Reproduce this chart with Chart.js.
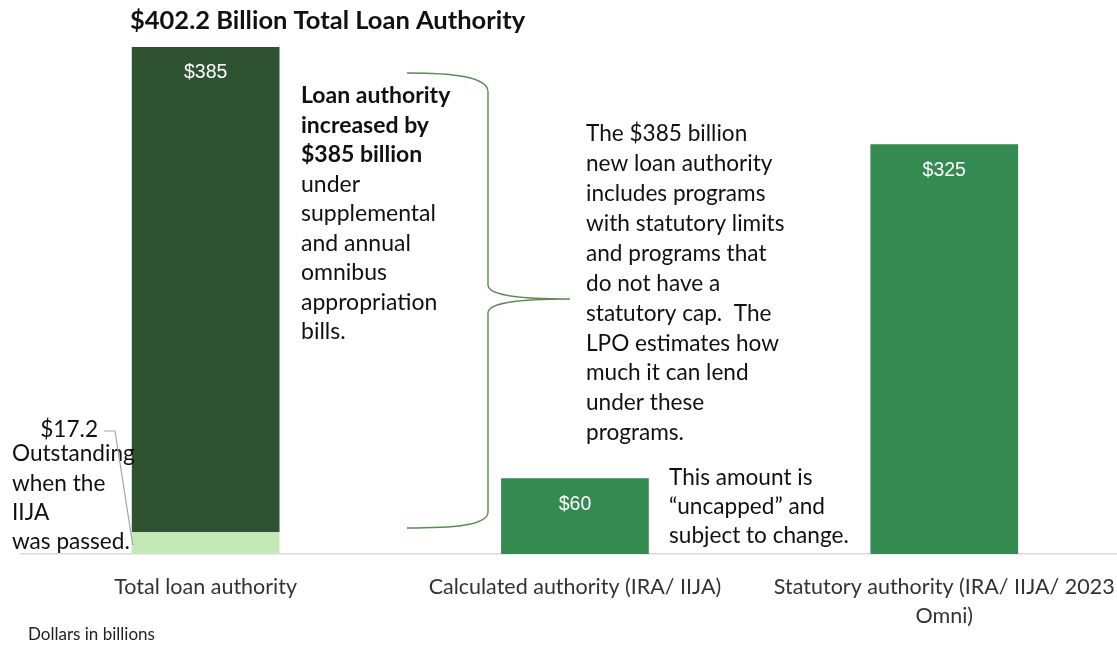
<!DOCTYPE html>
<html>
<head>
<meta charset="utf-8">
<script src="https://cdn.jsdelivr.net/npm/chart.js@4.4.1/dist/chart.umd.min.js"></script>
<style>
  html, body { margin: 0; padding: 0; background: #fff; overflow: hidden; }
  #wrap { position: absolute; left: 0; top: 0; width: 1134px; height: 648px; }
</style>
</head>
<body>
<div id="wrap"><canvas id="c" width="1134" height="648"></canvas></div>
<script>
// ---- data ----
const categories = [
  "Total loan authority",
  "Calculated authority (IRA/ IIJA)",
  ["Statutory authority (IRA/ IIJA/ 2023", "Omni)"]
];
const outstandingValues = [17.2, null, null];
const newAuthorityValues = [385, 60, 325];
const valueLabels = ["$385", "$60", "$325"];
const totalAuthority = 402.2;
const titleText = "$402.2 Billion Total Loan Authority";
const outstandingLabel = "$17.2";
const outstandingNote = ["Outstanding", "when the", "IIJA", "was passed."];
const boldNote = ["Loan authority", "increased by", "$385 billion"];
const plainNote = ["under", "supplemental", "and annual", "omnibus", "appropriation", "bills."];
const middleNote = ["The $385 billion", "new loan authority", "includes programs", "with statutory limits",
  "and programs that", "do not have a", "statutory cap.  The", "LPO estimates how",
  "much it can lend", "under these", "programs."];
const uncappedNote = ["This amount is", "\u201Cuncapped\u201D and", "subject to change."];
const unitNote = "Dollars in billions";

const DARK = "#2f5233", MID = "#358a52", LIGHT = "#c4e8b6";
const TXT_FONT = "Lato, 'Open Sans', sans-serif";

const annotations = {
  id: "annotations",
  afterDraw(chart) {
    const ctx = chart.ctx;
    const meta1 = chart.getDatasetMeta(1);
    const meta0 = chart.getDatasetMeta(0);
    ctx.save();
    // value labels
    ctx.fillStyle = "#ffffff";
    ctx.font = "19.5px 'Liberation Sans', Arial, sans-serif";
    ctx.textAlign = "center";
    ctx.textBaseline = "middle";
    meta1.data.forEach((bar, i) => {
      ctx.fillText(valueLabels[i], bar.x, bar.y + 26);
    });
    // title
    ctx.fillStyle = "#111";
    ctx.textAlign = "left";
    ctx.font = "bold 25.5px " + TXT_FONT;
    ctx.fillText(titleText, 130, 21);

    // bold + plain note
    ctx.font = "bold 23px " + TXT_FONT;
    let y = 96;
    boldNote.forEach(t => { ctx.fillText(t, 301, y); y += 29.5; });
    ctx.font = "23px " + TXT_FONT;
    plainNote.forEach(t => { ctx.fillText(t, 301, y); y += 29.5; });

    // middle note
    ctx.font = "22.6px " + TXT_FONT;
    y = 134;
    middleNote.forEach(t => { ctx.fillText(t, 586, y); y += 29.9; });

    // uncapped note
    y = 478;
    uncappedNote.forEach(t => { ctx.fillText(t, 669, y); y += 29; });

    // outstanding note
    y = 454;
    outstandingNote.forEach(t => { ctx.fillText(t, 12, y); y += 29.3; });
    ctx.textAlign = "right";
    ctx.fillText(outstandingLabel, 98, 430);

    // leader line
    const lb = meta0.data[0];
    ctx.strokeStyle = "#a6a6a6";
    ctx.lineWidth = 1.2;
    ctx.beginPath();
    ctx.moveTo(104, 431);
    ctx.lineTo(115, 431);
    ctx.lineTo(lb.x - lb.width / 2 + 1, (lb.y + lb.base) / 2 + 2);
    ctx.stroke();

    // brace
    ctx.strokeStyle = "#5d8a55";
    ctx.lineWidth = 1.4;
    ctx.beginPath();
    ctx.moveTo(407, 73);
    ctx.bezierCurveTo(450, 73, 488, 76, 488, 92);
    ctx.lineTo(488, 285);
    ctx.bezierCurveTo(488, 297, 530, 299, 570, 299);
    ctx.bezierCurveTo(530, 299, 488, 301, 488, 313);
    ctx.lineTo(488, 512);
    ctx.bezierCurveTo(488, 526, 450, 528, 407, 528);
    ctx.stroke();

    // unit note
    ctx.fillStyle = "#222";
    ctx.textAlign = "left";
    ctx.font = "17px " + TXT_FONT;
    ctx.fillText(unitNote, 28, 635);
    ctx.restore();
  }
};

new Chart(document.getElementById("c"), {
  type: "bar",
  data: {
    labels: categories,
    datasets: [
      { label: "Outstanding", data: outstandingValues, backgroundColor: LIGHT, borderWidth: 0 },
      { label: "New authority", data: newAuthorityValues, backgroundColor: [DARK, MID, MID], borderWidth: 0 }
    ]
  },
  options: {
    responsive: false,
    animation: false,
    events: [],
    layout: { padding: { left: 21, right: 2, top: 47, bottom: -2 } },
    plugins: { legend: { display: false }, tooltip: { enabled: false }, title: { display: false } },
    datasets: { bar: { barPercentage: 0.4, categoryPercentage: 1.0 } },
    scales: {
      x: {
        stacked: true,
        grid: { display: false, drawTicks: false },
        border: { display: true, color: "#d9d9d9", width: 1.5 },
        ticks: { color: "#333", font: { family: TXT_FONT, size: 21.5, lineHeight: 1.35 }, padding: 19, maxRotation: 0, autoSkip: false }
      },
      y: {
        stacked: true, display: false, min: 0, max: totalAuthority
      }
    }
  },
  plugins: [annotations]
});
</script>
</body>
</html>
